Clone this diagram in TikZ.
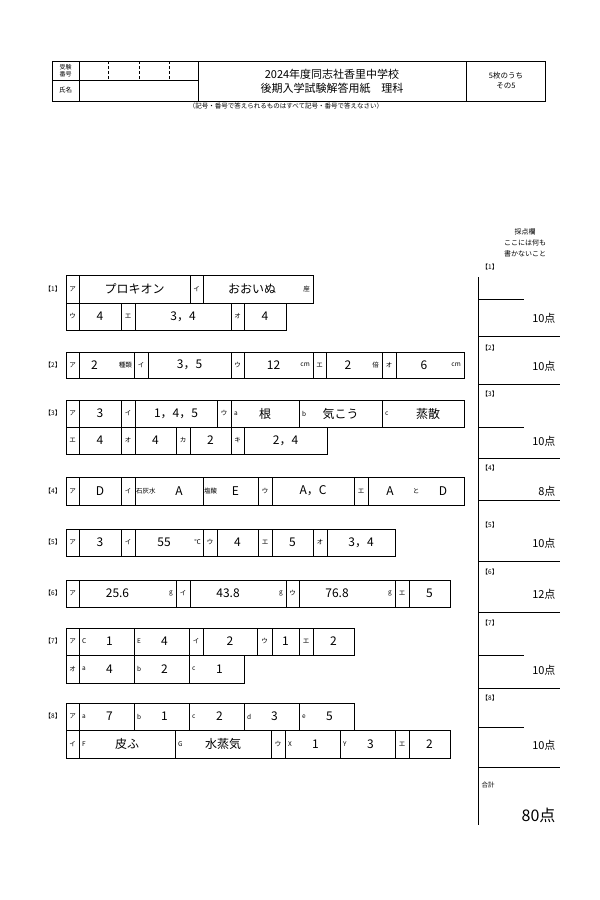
\documentclass[tikz,border=0pt]{standalone}
\usepackage{fontspec}
\setmainfont{Noto Sans CJK JP}
\tikzset{
  frame/.style={draw, line width=0.7pt},
  kana/.style={font=\fontsize{6.5}{7}\selectfont},
  ans/.style={font=\fontsize{12}{13}\selectfont},
  tiny/.style={font=\fontsize{6.5}{8}\selectfont},
  score/.style={font=\fontsize{11}{12}\selectfont, anchor=east},
}
% label box and answer box: x1 x2 y1 y2 ...
\newcommand{\kb}[5]{\draw[frame] (#1,#3) rectangle (#2,#4);
  \node[kana] at ({(#1+#2)/2},{(#3+#4)/2}) {#5};}
\newcommand{\ab}[6]{\draw[frame] (#1,#3) rectangle (#2,#4);
  \node[ans] at ({(#1+#2)/2+#5},{(#3+#4)/2}) {#6};}
\newcommand{\sub}[4]{\node[tiny, anchor=west, inner sep=1pt] at (#1,{(#2+#3)/2}) {#4};}
\newcommand{\unit}[4]{\node[tiny, anchor=east, inner sep=1pt] at (#1,{(#2+#3)/2}) {#4};}
\newcommand{\qlab}[2]{\node[tiny] at (53,#1) {【#2】};}
\begin{document}
\begin{tikzpicture}[x=1pt,y=-1pt]
\useasboundingbox (0,0) rectangle (600,900);
\fill[white] (0,0) rectangle (600,900);

% header
\draw[frame] (52,61) rectangle (545,101);
\draw[frame] (79,61) -- (79,101);
\draw[frame] (198,61) -- (198,101);
\draw[frame] (466,61) -- (466,101);
\draw[frame] (52,80) -- (198,80);
\foreach \x in {108,139,169} \draw[densely dashed, thin] (\x,61) -- (\x,80);
\node[font=\fontsize{6}{7}\selectfont, align=center] at (65.5,70.5) {受験\\番号};
\node[tiny] at (65.5,90) {氏名};
\node[font=\fontsize{11}{14}\selectfont, align=center] (title) at (332,81)
  {2024年度同志社香里中学校\\後期入学試験解答用紙\quad 理科};
\node[font=\fontsize{7.5}{10}\selectfont, align=center] (sheet) at (506,81) {5枚のうち\\その5};
\node[tiny] (note) at (286,106) {（記号・番号で答えられるものはすべて記号・番号で答えなさい）};

% [1]
\qlab{289}{1}
\kb{66}{79}{275}{303}{ア} \ab{79}{190}{275}{303}{0}{プロキオン}
\kb{190}{203}{275}{303}{イ} \ab{203}{313}{275}{303}{-6}{おおいぬ} \unit{311}{275}{303}{座}
\kb{66}{79}{303}{330}{ウ} \ab{79}{121}{303}{330}{0}{4}
\kb{121}{135}{303}{330}{エ} \ab{135}{231}{303}{330}{0}{3，4}
\kb{231}{244}{303}{330}{オ} \ab{244}{286}{303}{330}{0}{4}

% [2]
\qlab{365}{2}
\kb{66}{79}{352}{378}{ア} \ab{79}{134}{352}{378}{-12}{2} \unit{133}{352}{378}{種類}
\kb{134}{148}{352}{378}{イ} \ab{148}{231}{352}{378}{0}{3，5}
\kb{231}{244}{352}{378}{ウ} \ab{244}{313}{352}{378}{-5}{12} \unit{311}{352}{378}{cm}
\kb{313}{326}{352}{378}{エ} \ab{326}{382}{352}{378}{-6}{2} \unit{380}{352}{378}{倍}
\kb{382}{396}{352}{378}{オ} \ab{396}{464}{352}{378}{-6}{6} \unit{462}{352}{378}{cm}

% [3]
\qlab{413}{3}
\kb{66}{79}{400}{427}{ア} \ab{79}{121}{400}{427}{0}{3}
\kb{121}{135}{400}{427}{イ} \ab{135}{217}{400}{427}{0}{1，4，5}
\kb{217}{231}{400}{427}{ウ} \ab{231}{299}{400}{427}{0}{根} \sub{233}{400}{427}{a}
\ab{299}{382}{400}{427}{0}{気こう} \sub{301}{400}{427}{b}
\ab{382}{464}{400}{427}{5}{蒸散} \sub{384}{400}{427}{c}
\kb{66}{79}{427}{454}{エ} \ab{79}{121}{427}{454}{0}{4}
\kb{121}{135}{427}{454}{オ} \ab{135}{176}{427}{454}{0}{4}
\kb{176}{190}{427}{454}{カ} \ab{190}{231}{427}{454}{0}{2}
\kb{231}{244}{427}{454}{キ} \ab{244}{327}{427}{454}{0}{2，4}

% [4]
\qlab{491}{4}
\kb{66}{79}{477}{505}{ア} \ab{79}{121}{477}{505}{0}{D}
\kb{121}{135}{477}{505}{イ} \ab{135}{203}{477}{505}{10}{A} \sub{135}{477}{505}{石灰水}
\ab{203}{258}{477}{505}{5}{E} \sub{203}{477}{505}{塩酸}
\kb{258}{272}{477}{505}{ウ} \ab{272}{354}{477}{505}{0}{A，C}
\kb{354}{368}{477}{505}{エ} \ab{368}{464}{477}{505}{0}{}
\node[ans] (ea) at (390,491) {A};
\node[tiny] (et) at (416,491) {と};
\node[ans] (ed) at (443,491) {D};

% [5]
\qlab{542}{5}
\kb{66}{79}{529}{556}{ア} \ab{79}{121}{529}{556}{0}{3}
\kb{121}{135}{529}{556}{イ} \ab{135}{203}{529}{556}{-5}{55} \unit{202}{529}{556}{℃}
\kb{203}{217}{529}{556}{ウ} \ab{217}{258}{529}{556}{0}{4}
\kb{258}{272}{529}{556}{エ} \ab{272}{313}{529}{556}{0}{5}
\kb{313}{327}{529}{556}{オ} \ab{327}{395}{529}{556}{0}{3，4}

% [6]
\qlab{593}{6}
\kb{66}{79}{580}{607}{ア} \ab{79}{176}{580}{607}{-10}{25.6} \unit{174}{580}{607}{g}
\kb{176}{190}{580}{607}{イ} \ab{190}{286}{580}{607}{-10}{43.8} \unit{284}{580}{607}{g}
\kb{286}{299}{580}{607}{ウ} \ab{299}{395}{580}{607}{-10}{76.8} \unit{393}{580}{607}{g}
\kb{395}{409}{580}{607}{エ} \ab{409}{450}{580}{607}{0}{5}

% [7]
\qlab{641}{7}
\kb{66}{79}{628}{655}{ア} \ab{79}{134}{628}{655}{3}{1} \sub{81}{628}{655}{C}
\ab{134}{189}{628}{655}{3}{4} \sub{136}{628}{655}{E}
\kb{189}{203}{628}{655}{イ} \ab{203}{257}{628}{655}{0}{2}
\kb{257}{272}{628}{655}{ウ} \ab{272}{299}{628}{655}{0}{1}
\kb{299}{313}{628}{655}{エ} \ab{313}{354}{628}{655}{0}{2}
\kb{66}{79}{655}{683}{オ} \ab{79}{134}{655}{683}{3}{4} \sub{81}{655}{683}{a}
\ab{134}{189}{655}{683}{3}{2} \sub{136}{655}{683}{b}
\ab{189}{244}{655}{683}{3}{1} \sub{191}{655}{683}{c}

% [8]
\qlab{716}{8}
\kb{66}{79}{703}{730}{ア}
\foreach \xa/\xb/\s/\v in {79/134/a/7,134/189/b/1,189/244/c/2,244/299/d/3,299/354/e/5}
  {\ab{\xa}{\xb}{703}{730}{3}{\v} \sub{\xa+2}{703}{730}{\s}}
\kb{66}{79}{730}{758}{イ} \ab{79}{175}{730}{758}{0}{皮ふ} \sub{81}{730}{758}{F}
\ab{175}{271}{730}{758}{0}{水蒸気} \sub{177}{730}{758}{G}
\kb{271}{285}{730}{758}{ウ} \ab{285}{340}{730}{758}{3}{1} \sub{287}{730}{758}{X}
\ab{340}{395}{730}{758}{3}{3} \sub{342}{730}{758}{Y}
\kb{395}{409}{730}{758}{エ} \ab{409}{450}{730}{758}{0}{2}

% score column
\node[font=\fontsize{7}{11}\selectfont, align=center] (head) at (525,243) {採点欄\\ここには何も\\書かないこと};
\draw[frame] (478,277) -- (478,825);
\foreach \y/\n in {267/1,348/2,394/3,468/4,525/5,572/6,623/7,698/8}
  \node[tiny] at (490,\y) {【\n】};
\foreach \y in {299,427,655,727} \draw[frame] (478,\y) -- (524,\y);
\foreach \y in {336,384,458,500,561,612,688,767} \draw[frame] (478,\y) -- (560,\y);
\foreach \y/\p in {318/10,366/10,441/10,491/8,543/10,594/12,670/10,745/10}
  \node[score] at (559,\y) {\p 点};
\node[tiny] (total) at (488,785) {合計};
\node[font=\fontsize{16}{17}\selectfont, anchor=east] (sum) at (559,815) {80点};
\end{tikzpicture}
\end{document}
